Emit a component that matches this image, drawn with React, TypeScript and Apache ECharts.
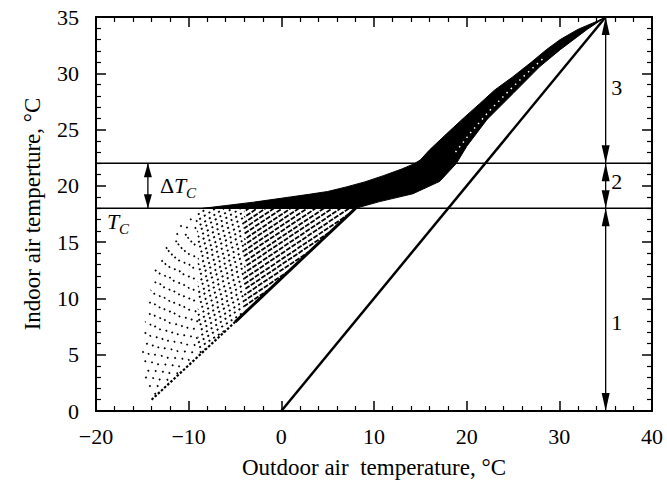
import React, { useEffect, useRef } from 'react';
import * as echarts from 'echarts';

// ---------- data ----------
const X_MIN = -20, X_MAX = 40, X_STEP = 10;
const Y_MIN = 0, Y_MAX = 35, Y_STEP = 5;

const comfortLow = 18;   // T_C
const comfortHigh = 22;  // T_C + ΔT_C

const neutralLine: number[][] = [[0, 0], [35, 35]];

// dense cloud (upper boundary, left -> right)
const bandUpper: number[][] = [
  [-8.5, 18.0], [-6, 18.25], [-3, 18.55], [0, 18.9], [3, 19.25], [5, 19.5], [7, 19.9],
  [9, 20.35], [11, 20.9], [13, 21.5], [14.3, 21.95], [15, 22.3], [16, 23.2], [17.8, 24.6],
  [19.5, 25.9], [21.4, 27.3], [23, 28.5], [25, 29.7], [27, 31.0], [28.6, 32.1], [30.1, 33.0],
  [32, 33.9], [34, 34.6], [35, 35],
];
// dense cloud (lower boundary, right -> left)
const bandLower: number[][] = [
  [35, 35], [33, 33.9], [30.1, 32.1], [27.9, 30.6], [25, 28.2], [22.2, 25.9], [20, 23.5],
  [18.9, 22.0], [17.1, 20.4], [14.2, 19.3], [10.6, 18.6], [8, 18.0],
];
// sparser lower fringe of the cloud above ΔT_C
const bandSpeckle: number[][] = [
  [18.8, 23.0], [20.5, 24.8], [22.5, 26.7], [24.5, 28.4], [26.5, 30.0], [28.5, 31.5],
];

// dotted streaks below T_C: [xLeft, yLeft, xRight, yRight]
const streaks: number[][] = [
  [-10.9, 16.4, -8.0, 18], [-12.0, 15.3, -7.1, 18], [-12.7, 14.3, -6.2, 18],
  [-13.1, 13.7, -5.3, 18], [-13.45, 13.0, -4.4, 18], [-13.7, 12.4, -3.5, 18],
  [-13.9, 11.8, -2.6, 18], [-14.0, 11.2, -1.7, 18], [-14.1, 10.7, -0.8, 18],
  [-14.3, 10.1, 0.1, 18], [-14.4, 9.5, 1.0, 18], [-14.5, 9.0, 1.9, 18],
  [-14.6, 8.4, 2.8, 18], [-14.7, 7.9, 3.7, 18], [-14.8, 7.3, 4.6, 18],
  [-14.9, 6.8, 5.5, 18], [-15.0, 6.2, 6.4, 18], [-15.0, 5.7, 7.3, 18],
  [-15.0, 5.2, 7.5, 17.6], [-15.0, 4.7, 5.25, 15.9], [-15.0, 4.25, 3.0, 14.15],
  [-14.9, 3.8, 0.75, 12.4], [-14.85, 3.3, -1.5, 10.7], [-14.75, 2.9, -3.75, 8.95],
  [-14.6, 2.5, -6.0, 7.2], [-14.5, 2.05, -8.25, 5.5], [-14.3, 1.7, -10.5, 3.75],
  [-14.2, 1.2, -12.75, 2.0],
];

const lowerEdgeDotted: number[][] = [[-14, 1], [-5, 7.9]];
const lowerEdgeSolid: number[][] = [[-5, 7.9], [8, 18]];

// double arrows: [x, yFrom, yTo]
const zoneArrows: number[][] = [[35, 0, 18], [35, 18, 22], [35, 22, 35]];
const deltaArrow: number[][] = [[-14.4, 18, 22]];

const zoneLabelText = ['1', '2', '3'];
const zoneLabelPos: number[][] = [[36.2, 7.9], [36.2, 20.4], [36.2, 28.7]];

const deltaLabelPos: number[][] = [[-13.1, 20.0]];
const tcLabelPos: number[][] = [[-18.8, 16.8]];

const xTitle = 'Outdoor air  temperature, °C';
const yTitle = 'Indoor air temperture, °C';

// ---------- component ----------
const FONT = '"Liberation Serif", "DejaVu Serif", serif';

export default function App() {
  const ref = useRef<HTMLDivElement>(null);

  useEffect(() => {
    if (!ref.current) return;
    const chart = echarts.init(ref.current, null, { renderer: 'svg' });

    const fmt = (v: number) => (v < 0 ? '\u2212' + Math.abs(v) : String(v));

    const axisCommon = {
      type: 'value' as const,
      axisLine: { show: true, onZero: false, lineStyle: { color: '#000', width: 2 } },
      axisTick: { show: true, inside: true, length: 10, lineStyle: { color: '#000', width: 1.5 } },
      minorTick: { show: true, splitNumber: 5, length: 5, lineStyle: { color: '#000', width: 1.2 } },
      splitLine: { show: false },
      minorSplitLine: { show: false },
    };

    const lineSeries = (data: number[][], width: number, type: any = 'solid', color = '#000', z = 3) => ({
      type: 'line',
      data,
      symbol: 'none',
      silent: true,
      lineStyle: { color, width, type, cap: 'butt' },
      z,
    });

    const seg = (a: number[], b: number[], dash: number[], width: number, offset: number) => ({
      type: 'line',
      shape: { x1: a[0], y1: a[1], x2: b[0], y2: b[1] },
      style: { stroke: '#000', lineWidth: width, lineDash: dash, lineDashOffset: offset, lineCap: 'butt' },
    });

    const arrowRender = (head: number, half: number) => (params: any, api: any) => {
      const x = api.value(0), y1 = api.value(1), y2 = api.value(2);
      const b = api.coord([x, y1]);
      const t = api.coord([x, y2]);
      return {
        type: 'group',
        children: [
          { type: 'line', shape: { x1: b[0], y1: b[1], x2: t[0], y2: t[1] }, style: { stroke: '#000', lineWidth: 1.3 } },
          { type: 'polygon', shape: { points: [[t[0], t[1]], [t[0] - half, t[1] + head], [t[0] + half, t[1] + head]] }, style: { fill: '#000' } },
          { type: 'polygon', shape: { points: [[b[0], b[1]], [b[0] - half, b[1] - head], [b[0] + half, b[1] - head]] }, style: { fill: '#000' } },
        ],
      };
    };

    const option: any = {
      animation: false,
      backgroundColor: '#fff',
      grid: { left: 96, right: 15, top: 17, bottom: 75, containLabel: false },
      xAxis: [
        {
          ...axisCommon,
          position: 'bottom',
          min: X_MIN, max: X_MAX, interval: X_STEP,
          axisLabel: { show: true, margin: 14, color: '#000', fontFamily: FONT, fontSize: 22, formatter: fmt },
          name: xTitle,
          nameLocation: 'middle',
          nameGap: 45,
          nameTextStyle: { color: '#000', fontFamily: FONT, fontSize: 23 },
        },
        {
          ...axisCommon,
          position: 'top',
          min: X_MIN, max: X_MAX, interval: X_STEP,
          axisLabel: { show: false },
        },
      ],
      yAxis: [
        {
          ...axisCommon,
          position: 'left',
          min: Y_MIN, max: Y_MAX, interval: Y_STEP,
          axisLabel: { show: true, margin: 17, color: '#000', fontFamily: FONT, fontSize: 22, formatter: fmt },
          name: yTitle,
          nameLocation: 'middle',
          nameGap: 52,
          nameTextStyle: { color: '#000', fontFamily: FONT, fontSize: 23 },
        },
        {
          ...axisCommon,
          position: 'right',
          min: Y_MIN, max: Y_MAX, interval: Y_STEP,
          axisLabel: { show: false },
        },
      ],
      series: [
        // dense cloud
        {
          type: 'custom',
          silent: true,
          data: [[0, 0]],
          z: 2,
          renderItem: (params: any, api: any) => {
            const pts = [...bandUpper, ...bandLower].map((p) => api.coord(p));
            return { type: 'polygon', shape: { points: pts }, style: { fill: '#000', stroke: '#000', lineWidth: 1 } };
          },
        },
        lineSeries(bandSpeckle, 1.5, [1.5, 4.5], '#fff', 3),
        // dotted streaks
        {
          type: 'custom',
          silent: true,
          dimensions: ['x1', 'y1', 'x2', 'y2'],
          encode: { x: [0, 2], y: [1, 3] },
          data: streaks,
          z: 2,
          renderItem: (params: any, api: any) => {
            const L = [api.value(0), api.value(1)];
            const R = [api.value(2), api.value(3)];
            const p = api.coord(L);
            const q = api.coord(R);
            const at = (xv: number) => {
              const t = (xv - L[0]) / (R[0] - L[0]);
              return [p[0] + t * (q[0] - p[0]), p[1] + t * (q[1] - p[1])];
            };
            const off = (params.dataIndex * 4.3) % 11;
            const c1 = -9, c2 = -4;
            const children: any[] = [];
            if (L[0] < c1) children.push(seg(p, at(Math.min(R[0], c1)), [1.7, 10], 1.8, off));
            if (L[0] < c2 && R[0] > c1) children.push(seg(at(Math.max(L[0], c1)), at(Math.min(R[0], c2)), [2, 3.6], 1.8, off));
            if (R[0] > c2) children.push(seg(at(Math.max(L[0], c2)), q, [5, 1.4], 1.8, off));
            return { type: 'group', children };
          },
        },
        lineSeries(lowerEdgeDotted, 2.2, [2.5, 1.8]),
        lineSeries(lowerEdgeSolid, 3),
        lineSeries([[X_MIN, comfortLow], [X_MAX, comfortLow]], 1.5),
        lineSeries([[X_MIN, comfortHigh], [X_MAX, comfortHigh]], 1.5),
        lineSeries(neutralLine, 2.5),
        // zone arrows
        {
          type: 'custom',
          silent: true,
          dimensions: ['x', 'y1', 'y2'],
          encode: { x: 0, y: [1, 2] },
          data: zoneArrows,
          z: 4,
          renderItem: arrowRender(18, 4),
        },
        {
          type: 'custom',
          silent: true,
          dimensions: ['x', 'y1', 'y2'],
          encode: { x: 0, y: [1, 2] },
          data: deltaArrow,
          z: 4,
          renderItem: arrowRender(14, 4),
        },
        // zone labels
        {
          type: 'custom',
          silent: true,
          data: zoneLabelPos,
          z: 5,
          renderItem: (params: any, api: any) => {
            const p = api.coord([api.value(0), api.value(1)]);
            return {
              type: 'text',
              x: p[0], y: p[1],
              style: { text: zoneLabelText[params.dataIndex], fill: '#000', font: `22px ${FONT}`, align: 'center', verticalAlign: 'middle' },
            };
          },
        },
        // ΔT_C label
        {
          type: 'custom',
          silent: true,
          data: deltaLabelPos,
          z: 5,
          renderItem: (params: any, api: any) => {
            const p = api.coord([api.value(0), api.value(1)]);
            return {
              type: 'group',
              children: [
                { type: 'text', x: p[0], y: p[1], style: { text: '\u0394', fill: '#000', font: `22px ${FONT}`, align: 'left', verticalAlign: 'middle' } },
                { type: 'text', x: p[0] + 14, y: p[1], style: { text: 'T', fill: '#000', font: `italic 22px ${FONT}`, align: 'left', verticalAlign: 'middle' } },
                { type: 'text', x: p[0] + 26, y: p[1] + 7, style: { text: 'C', fill: '#000', font: `italic 15px ${FONT}`, align: 'left', verticalAlign: 'middle' } },
              ],
            };
          },
        },
        // T_C label
        {
          type: 'custom',
          silent: true,
          data: tcLabelPos,
          z: 5,
          renderItem: (params: any, api: any) => {
            const p = api.coord([api.value(0), api.value(1)]);
            return {
              type: 'group',
              children: [
                { type: 'text', x: p[0], y: p[1], style: { text: 'T', fill: '#000', font: `italic 22px ${FONT}`, align: 'left', verticalAlign: 'middle' } },
                { type: 'text', x: p[0] + 12, y: p[1] + 7, style: { text: 'C', fill: '#000', font: `italic 15px ${FONT}`, align: 'left', verticalAlign: 'middle' } },
              ],
            };
          },
        },
      ],
    };

    chart.setOption(option);
    return () => chart.dispose();
  }, []);

  return (
    <div
      ref={ref}
      style={{ position: 'fixed', left: 0, top: 0, width: 667, height: 486, background: '#fff' }}
    />
  );
}
